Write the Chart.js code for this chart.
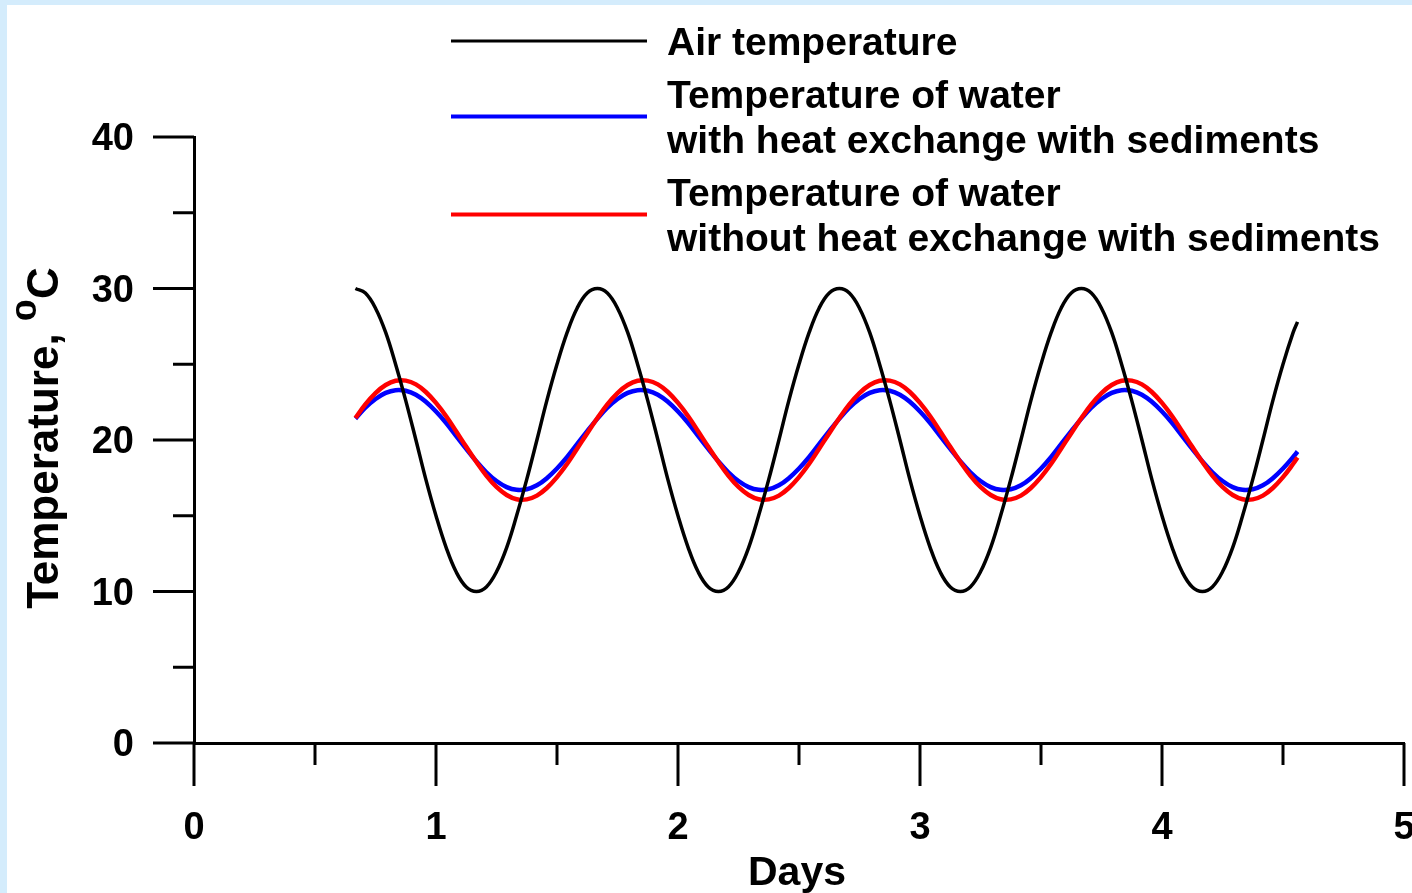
<!DOCTYPE html>
<html>
<head>
<meta charset="utf-8">
<script src="https://cdn.jsdelivr.net/npm/chart.js@4.4.0/dist/chart.umd.min.js"></script>
<style>
html,body{margin:0;padding:0;background:#d4ecfc;overflow:hidden;}
</style>
</head>
<body>
<canvas id="chart" width="1412" height="893"></canvas>
<script>
// ---------- DATA (hourly readings) ----------
const days = [
0.667,0.708,0.75,0.792,0.833,0.875,0.917,0.958,1,1.042,1.083,1.125,1.167,1.208,1.25,1.292,1.333,1.375,1.417,1.458,1.5,1.542,1.583,1.625,
1.667,1.708,1.75,1.792,1.833,1.875,1.917,1.958,2,2.042,2.083,2.125,2.167,2.208,2.25,2.292,2.333,2.375,2.417,2.458,2.5,2.542,2.583,2.625,
2.667,2.708,2.75,2.792,2.833,2.875,2.917,2.958,3,3.042,3.083,3.125,3.167,3.208,3.25,3.292,3.333,3.375,3.417,3.458,3.5,3.542,3.583,3.625,
3.667,3.708,3.75,3.792,3.833,3.875,3.917,3.958,4,4.042,4.083,4.125,4.167,4.208,4.25,4.292,4.333,4.375,4.417,4.458,4.5,4.542,4.56];

const airTemp = [
30,29.7,28.7,27.1,25,22.6,20,17.4,15,12.9,11.3,10.3,10,10.3,11.3,12.9,15,17.4,20,22.6,25,27.1,28.7,29.7,
30,29.7,28.7,27.1,25,22.6,20,17.4,15,12.9,11.3,10.3,10,10.3,11.3,12.9,15,17.4,20,22.6,25,27.1,28.7,29.7,
30,29.7,28.7,27.1,25,22.6,20,17.4,15,12.9,11.3,10.3,10,10.3,11.3,12.9,15,17.4,20,22.6,25,27.1,28.7,29.7,
30,29.7,28.7,27.1,25,22.6,20,17.4,15,12.9,11.3,10.3,10,10.3,11.3,12.9,15,17.4,20,22.6,25,27.1,27.8];

const waterWithSed = [
21.41,22.13,22.71,23.11,23.29,23.25,22.99,22.52,21.88,21.12,20.28,19.42,18.59,17.87,17.29,16.89,16.71,16.75,17.01,17.48,18.12,18.88,19.72,20.58,
21.41,22.13,22.71,23.11,23.29,23.25,22.99,22.52,21.88,21.12,20.28,19.42,18.59,17.87,17.29,16.89,16.71,16.75,17.01,17.48,18.12,18.88,19.72,20.58,
21.41,22.13,22.71,23.11,23.29,23.25,22.99,22.52,21.88,21.12,20.28,19.42,18.59,17.87,17.29,16.89,16.71,16.75,17.01,17.48,18.12,18.88,19.72,20.58,
21.41,22.13,22.71,23.11,23.29,23.25,22.99,22.52,21.88,21.12,20.28,19.42,18.59,17.87,17.29,16.89,16.71,16.75,17.01,17.48,18.12,18.88,19.24];

const waterNoSed = [
21.45,22.35,23.10,23.63,23.91,23.92,23.67,23.17,22.45,21.57,20.58,19.55,18.55,17.65,16.90,16.37,16.09,16.08,16.33,16.83,17.55,18.43,19.42,20.45,
21.45,22.35,23.10,23.63,23.91,23.92,23.67,23.17,22.45,21.57,20.58,19.55,18.55,17.65,16.90,16.37,16.09,16.08,16.33,16.83,17.55,18.43,19.42,20.45,
21.45,22.35,23.10,23.63,23.91,23.92,23.67,23.17,22.45,21.57,20.58,19.55,18.55,17.65,16.90,16.37,16.09,16.08,16.33,16.83,17.55,18.43,19.42,20.45,
21.45,22.35,23.10,23.63,23.91,23.92,23.67,23.17,22.45,21.57,20.58,19.55,18.55,17.65,16.90,16.37,16.09,16.08,16.33,16.83,17.55,18.43,18.85];

const xTicks = [0,1,2,3,4,5];
const xMinor = [0.5,1.5,2.5,3.5,4.5];
const yTicks = [0,10,20,30,40];
const yMinor = [5,15,25,35];

const xTitle = "Days";
const yTitle = ["Temperature, ","0","C"];

const FONT = "'Liberation Sans', Arial, sans-serif";

function pts(vals){
return days.map((d,i)=>({x:d,y:vals[i]}));
}

// ---------- PLUGINS ----------
const frame = {
id:"frame",
beforeDraw(chart){
const ctx = chart.ctx;
ctx.save();
ctx.fillStyle="#d4ecfc";
ctx.fillRect(0,0,chart.width,chart.height);
ctx.fillStyle="#fff";
ctx.fillRect(7,5,chart.width-7,chart.height-5);
ctx.restore();
}
};

const axisExtras = {
id:"axisExtras",
afterDraw(chart){
const {ctx, chartArea, scales:{x,y}} = chart;
ctx.save();
ctx.strokeStyle="#000";
ctx.lineWidth=3;
ctx.lineCap="butt";
const line=(x1,y1,x2,y2)=>{ctx.beginPath();ctx.moveTo(x1,y1);ctx.lineTo(x2,y2);ctx.stroke();};

// y ticks
yTicks.forEach(v=>{const p=y.getPixelForValue(v); line(y.right-41,p,y.right,p);});
yMinor.forEach(v=>{const p=y.getPixelForValue(v); line(y.right-21,p,y.right,p);});
// x ticks
xTicks.forEach(v=>{const p=x.getPixelForValue(v); line(p,x.top,p,x.top+43);});
xMinor.forEach(v=>{const p=x.getPixelForValue(v); line(p,x.top,p,x.top+22);});

// x title
ctx.fillStyle="#000";
ctx.font="bold 41px "+FONT;
ctx.textAlign="center";
ctx.textBaseline="alphabetic";
ctx.fillText(xTitle,(chartArea.left+chartArea.right)/2-2,885);

// y title (rotated, with superscript 0)
const big="bold 44px "+FONT;
const sup="bold 40px "+FONT;
ctx.font=big; const w1=ctx.measureText(yTitle[0]).width;
ctx.font=sup; const w2=ctx.measureText(yTitle[1]).width;
ctx.font=big; const w3=ctx.measureText(yTitle[2]).width;
const total=w1+w2+w3;
const cy=(chartArea.top+chartArea.bottom)/2-2;
ctx.translate(58,cy);
ctx.rotate(-Math.PI/2);
ctx.textAlign="left";
let tx=-total/2;
ctx.font=big; ctx.fillText(yTitle[0],tx,0); tx+=w1;
ctx.save();
ctx.translate(tx,-22);
ctx.scale(1,0.72);
ctx.font=sup; ctx.fillText(yTitle[1],0,0);
ctx.restore();
tx+=w2;
ctx.font=big; ctx.fillText(yTitle[2],tx,0);
ctx.restore();
}
};

const sideLegend = {
id:"sideLegend",
afterDraw(chart){
const ctx = chart.ctx;
ctx.save();
ctx.font="bold 39px "+FONT;
ctx.fillStyle="#000";
ctx.textAlign="left";
ctx.textBaseline="alphabetic";
let base=55;
chart.data.datasets.forEach((ds,i)=>{
const lines = Array.isArray(ds.label)?ds.label:[ds.label];
const first = base;
lines.forEach((t,j)=>{ctx.fillText(t,667,base); if(j<lines.length-1) base+=45;});
const mid = (first+base)/2-14;
ctx.strokeStyle=ds.borderColor;
ctx.lineWidth= i===0?3:4;
ctx.beginPath();ctx.moveTo(451,mid);ctx.lineTo(647,mid);ctx.stroke();
base+=53;
});
ctx.restore();
}
};

// ---------- CHART ----------
const ctx = document.getElementById("chart").getContext("2d");

const tickFont = {family:FONT,size:38,weight:"bold"};

const chart = new Chart(ctx,{
type:"line",
data:{
datasets:[
{
label:"Air temperature",
data:pts(airTemp),
borderColor:"#000000",
borderWidth:3.5,
order:0
},
{
label:["Temperature of water","with heat exchange with sediments"],
data:pts(waterWithSed),
borderColor:"#0000ff",
borderWidth:4.5,
order:2
},
{
label:["Temperature of water","without heat exchange with sediments"],
data:pts(waterNoSed),
borderColor:"#ff0000",
borderWidth:4.5,
order:1
}
]
},
options:{
responsive:false,
animation:false,
layout:{padding:{left:0,top:137,right:8,bottom:0}},
elements:{
point:{radius:0},
line:{tension:0.4,borderJoinStyle:"round",fill:false}
},
plugins:{
legend:{display:false},
tooltip:{enabled:false}
},
scales:{
x:{
type:"linear",
min:0,max:5,
afterBuildTicks(s){s.ticks=xTicks.map(v=>({value:v}));},
afterFit(s){s.height=150;s.paddingLeft=0;s.paddingRight=0;},
ticks:{padding:63,color:"#000",font:tickFont,maxRotation:0,autoSkip:false},
grid:{display:false,drawTicks:false},
border:{display:true,color:"#000",width:3}
},
y:{
type:"linear",
min:0,max:40,
afterBuildTicks(s){s.ticks=yTicks.map(v=>({value:v}));},
afterFit(s){s.width=194;s.paddingTop=0;s.paddingBottom=0;},
ticks:{padding:60,labelOffset:3,color:"#000",font:tickFont},
grid:{display:false,drawTicks:false},
border:{display:true,color:"#000",width:3}
}
}
},
plugins:[frame,axisExtras,sideLegend]
});
</script>
</body>
</html>
